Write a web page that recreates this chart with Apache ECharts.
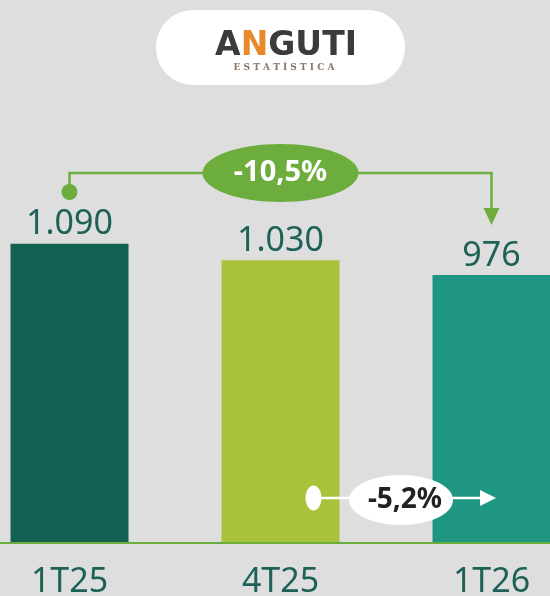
<!DOCTYPE html>
<html>
<head>
<meta charset="utf-8">
<script src="https://cdn.jsdelivr.net/npm/echarts@6/dist/echarts.min.js"></script>
<style>
  html, body { margin: 0; padding: 0; background: #dedede; }
  #chart { width: 550px; height: 596px; }
</style>
</head>
<body>
<div id="chart"></div>
<script>
const categories = ['1T25', '4T25', '1T26'];
const values = [1090, 1030, 976];
const totalChange = '-10,5%';
const lastChange = '-5,2%';

const barColors = ['#136153', '#a8c23a', '#1e9682'];
const accent = '#6dad3d';
const textColor = '#1e6157';

function fmt(v) {
    return String(v).replace(/\B(?=(\d{3})+(?!\d))/g, '.');
}

const chart = echarts.init(document.getElementById('chart'), null, { renderer: 'canvas' });

chart.setOption({
    backgroundColor: '#dedede',
    animation: false,
    grid: { left: -36, right: -47, top: 213.6, bottom: 53, outerBoundsMode: 'none', containLabel: false },
    xAxis: {
        type: 'category',
        data: categories,
        axisTick: { show: false },
        axisLine: { lineStyle: { color: accent, width: 2 } },
        axisLabel: { color: textColor, fontSize: 34, fontFamily: 'Noto Sans', margin: 22 },
        z: 5
    },
    yAxis: { type: 'value', min: 0, max: 1200, show: false, splitLine: { show: false } },
    series: [{
        type: 'bar',
        barWidth: 118,
        data: values.map((v, i) => ({ value: v, itemStyle: { color: barColors[i] } })),
        label: {
            show: true,
            position: 'top',
            distance: 2,
            color: textColor,
            fontSize: 34,
            fontFamily: 'Noto Sans',
            formatter: p => fmt(p.value)
        }
    }]
});

// annotations anchored on the bar centres
const x1 = chart.convertToPixel({ xAxisIndex: 0 }, categories[0]);
const x2 = chart.convertToPixel({ xAxisIndex: 0 }, categories[1]);
const x3 = chart.convertToPixel({ xAxisIndex: 0 }, categories[2]);
const lineY = 173;

const annotations = [
    // logo
    { type: 'rect', shape: { x: 156, y: 10, width: 249, height: 75, r: 37 }, style: { fill: '#ffffff' } },
    {
        type: 'text', x: 286, y: 46,
        style: {
            text: '{d|A}{o|N}{d|GUTI}', align: 'center', verticalAlign: 'middle',
            rich: {
                d: { fontSize: 33, fontWeight: 'bold', fontFamily: 'DejaVu Sans', fill: '#3b3b3b' },
                o: { fontSize: 33, fontWeight: 'bold', fontFamily: 'DejaVu Sans', fill: '#e8892b' }
            }
        }
    },
    {
        type: 'text', x: 284, y: 68,
        style: { text: 'E S T A T Í S T I C A', align: 'center', verticalAlign: 'middle',
            fontSize: 9, fontFamily: 'DejaVu Serif', fontWeight: 'bold', fill: '#8c7464' }
    },
    // top bracket
    {
        type: 'polyline',
        shape: { points: [[x1, 192], [x1, lineY], [x3, lineY], [x3, 212]] },
        style: { stroke: accent, lineWidth: 2.5, fill: null }
    },
    { type: 'circle', shape: { cx: x1, cy: 192, r: 8 }, style: { fill: accent } },
    { type: 'polygon', shape: { points: [[x3 - 8, 208], [x3 + 8, 208], [x3, 225]] }, style: { fill: accent } },
    { type: 'ellipse', shape: { cx: x2, cy: lineY, rx: 78, ry: 29 }, style: { fill: accent } },
    {
        type: 'text', x: x2, y: lineY,
        style: { text: totalChange, align: 'center', verticalAlign: 'middle',
            fontSize: 29, fontWeight: 'bold', fontFamily: 'Noto Sans', fill: '#ffffff' }
    },
    // bottom arrow
    { type: 'line', shape: { x1: x2 + 33, y1: 498, x2: 482, y2: 498 }, style: { stroke: '#ffffff', lineWidth: 2.5 } },
    { type: 'ellipse', shape: { cx: x2 + 33, cy: 498, rx: 8, ry: 12.5 }, style: { fill: '#ffffff' } },
    { type: 'polygon', shape: { points: [[480, 490], [480, 506], [496, 498]] }, style: { fill: '#ffffff' } },
    { type: 'ellipse', shape: { cx: 401, cy: 500, rx: 52, ry: 25 }, style: { fill: '#ffffff' } },
    {
        type: 'text', x: 405, y: 500,
        style: { text: lastChange, align: 'center', verticalAlign: 'middle',
            fontSize: 28, fontWeight: 'bold', fontFamily: 'Noto Sans', fill: '#222222' }
    }
];

chart.setOption({ graphic: annotations.map(g => Object.assign({ z: 100 }, g)) });
</script>
</body>
</html>
